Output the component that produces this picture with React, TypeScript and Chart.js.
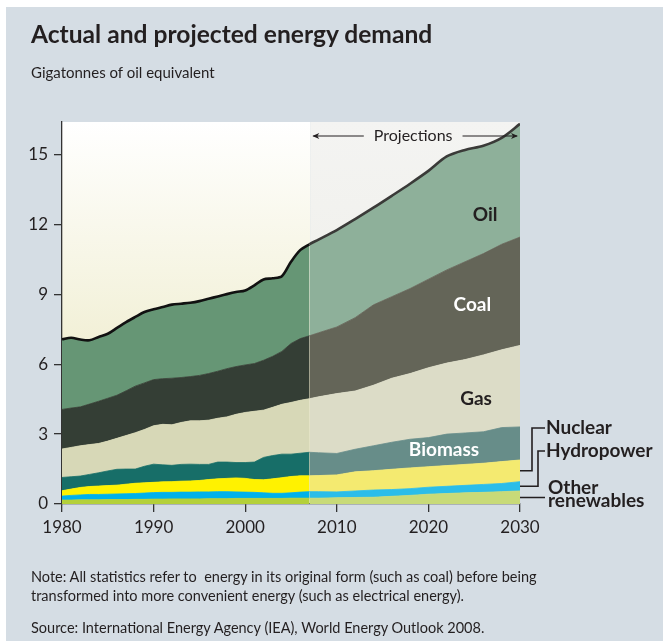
import React, { useEffect, useRef } from 'react';
import { Chart, registerables } from 'chart.js';

Chart.register(...registerables);

const years = [
  1980, 1981, 1982, 1983, 1984, 1985, 1986, 1987, 1988, 1989,
  1990, 1991, 1992, 1993, 1994, 1995, 1996, 1997, 1998, 1999,
  2000, 2001, 2002, 2003, 2004, 2005, 2006, 2007, 2008,
  2010, 2012, 2014, 2016, 2018, 2020, 2022, 2024, 2026, 2028, 2030,
];

const otherRenewables = [
  0.17, 0.17, 0.18, 0.18, 0.18, 0.19, 0.19, 0.19, 0.2, 0.2,
  0.21, 0.21, 0.22, 0.22, 0.22, 0.22, 0.23, 0.23, 0.23, 0.24,
  0.24, 0.24, 0.24, 0.24, 0.24, 0.25, 0.25, 0.25, 0.25,
  0.27, 0.28, 0.29, 0.33, 0.37, 0.42, 0.45, 0.48, 0.5, 0.53, 0.56,
];
const hydropower = [
  0.17, 0.2, 0.21, 0.23, 0.23, 0.23, 0.24, 0.25, 0.25, 0.27,
  0.28, 0.29, 0.28, 0.29, 0.29, 0.3, 0.29, 0.3, 0.3, 0.28,
  0.27, 0.26, 0.24, 0.22, 0.22, 0.23, 0.26, 0.28, 0.28,
  0.25, 0.28, 0.31, 0.29, 0.29, 0.3, 0.31, 0.32, 0.34, 0.35, 0.4,
];
const nuclear = [
  0.23, 0.27, 0.32, 0.34, 0.36, 0.37, 0.38, 0.41, 0.44, 0.44,
  0.44, 0.45, 0.46, 0.47, 0.48, 0.49, 0.53, 0.55, 0.57, 0.6,
  0.59, 0.55, 0.56, 0.62, 0.67, 0.7, 0.7, 0.68, 0.69,
  0.73, 0.82, 0.83, 0.87, 0.89, 0.88, 0.89, 0.9, 0.91, 0.94, 0.93,
];
const biomass = [
  0.57, 0.53, 0.49, 0.52, 0.57, 0.63, 0.68, 0.65, 0.61, 0.71,
  0.78, 0.73, 0.7, 0.72, 0.72, 0.69, 0.65, 0.72, 0.7, 0.66,
  0.68, 0.75, 0.96, 1.0, 1.01, 0.96, 0.97, 1.01, 0.98,
  0.92, 0.97, 1.07, 1.16, 1.23, 1.25, 1.35, 1.35, 1.35, 1.46, 1.42,
];
const gas = [
  1.22, 1.26, 1.3, 1.28, 1.26, 1.28, 1.33, 1.44, 1.56, 1.58,
  1.65, 1.74, 1.74, 1.8, 1.86, 1.87, 1.9, 1.88, 1.94, 2.07,
  2.15, 2.18, 2.03, 2.07, 2.14, 2.22, 2.27, 2.3, 2.4,
  2.57, 2.5, 2.6, 2.75, 2.82, 3.0, 3.05, 3.15, 3.3, 3.34, 3.5,
];
const coal = [
  1.7, 1.69, 1.67, 1.74, 1.81, 1.84, 1.85, 1.92, 2.0, 2.0,
  1.98, 1.96, 2.0, 1.93, 1.9, 1.95, 2.0, 2.02, 2.07, 2.05,
  2.04, 2.05, 2.14, 2.19, 2.27, 2.53, 2.65, 2.7, 2.75,
  2.86, 3.15, 3.45, 3.5, 3.65, 3.8, 4.0, 4.2, 4.35, 4.53, 4.65,
];
const oil = [
  3.01, 3.02, 2.89, 2.74, 2.76, 2.77, 2.89, 2.95, 2.97, 3.04,
  3.02, 3.08, 3.16, 3.17, 3.17, 3.19, 3.21, 3.21, 3.2, 3.2,
  3.2, 3.36, 3.47, 3.35, 3.23, 3.51, 3.8, 3.93, 4.0,
  4.16, 4.23, 4.17, 4.33, 4.5, 4.65, 4.87, 4.8, 4.63, 4.57, 4.86,
];

const xTicks = [1980, 1990, 2000, 2010, 2020, 2030];
const yTicks = [0, 3, 6, 9, 12, 15];
const projectionStart = 2007;

const FONT = "Lato, 'Open Sans', sans-serif";
const TEXT = '#231f20';

const seriesDefs = [
  { label: 'Other renewables', data: otherRenewables, hist: '#b4d03a', proj: '#c8da78' },
  { label: 'Hydropower', data: hydropower, hist: '#00b1ea', proj: '#2bbde9' },
  { label: 'Nuclear', data: nuclear, hist: '#fff200', proj: '#f4ea70' },
  { label: 'Biomass', data: biomass, hist: '#176e68', proj: '#678d89' },
  { label: 'Gas', data: gas, hist: '#d7d8b7', proj: '#dcdcc7' },
  { label: 'Coal', data: coal, hist: '#343e35', proj: '#646558' },
  { label: 'Oil', data: oil, hist: '#669675', proj: '#8eb09a' },
];

const innerLabels = [
  { text: 'Oil', x: 2026.2, y: 12.4, color: TEXT },
  { text: 'Coal', x: 2024.8, y: 8.53, color: '#ffffff' },
  { text: 'Gas', x: 2025.2, y: 4.5, color: TEXT },
  { text: 'Biomass', x: 2021.7, y: 2.34, color: '#ffffff' },
];

function arrowHead(ctx: CanvasRenderingContext2D, x: number, y: number, dir: number) {
  ctx.beginPath();
  ctx.moveTo(x, y);
  ctx.lineTo(x - dir * 7, y - 3);
  ctx.lineTo(x - dir * 5, y);
  ctx.lineTo(x - dir * 7, y + 3);
  ctx.closePath();
  ctx.fill();
}

const decorPlugin = {
  id: 'decor',
  beforeDraw(chart: any) {
    const { ctx, chartArea: a, scales } = chart;
    const xp = scales.x.getPixelForValue(projectionStart) + 1;
    ctx.save();
    let g = ctx.createLinearGradient(0, a.top, 0, a.bottom);
    g.addColorStop(0, '#ffffff');
    g.addColorStop(1, '#e8e5b9');
    ctx.fillStyle = g;
    ctx.fillRect(a.left, a.top, xp - a.left, a.bottom - a.top);
    g = ctx.createLinearGradient(0, a.top, 0, a.bottom);
    g.addColorStop(0, '#f4f4f2');
    g.addColorStop(1, '#ebebe4');
    ctx.fillStyle = g;
    ctx.fillRect(xp, a.top, a.right - xp, a.bottom - a.top);
    ctx.restore();
  },
  afterDraw(chart: any) {
    const { ctx, chartArea: a, scales } = chart;
    const xs = scales.x;
    const ys = scales.y;
    ctx.save();
    // Projections annotation
    const xp = xs.getPixelForValue(projectionStart) + 1;
    const ay = a.top + 14;
    const cx = (xp + a.right) / 2 - 2;
    ctx.font = `16px ${FONT}`;
    ctx.fillStyle = TEXT;
    ctx.strokeStyle = TEXT;
    ctx.textAlign = 'center';
    ctx.textBaseline = 'middle';
    const label = 'Projections';
    const w = ctx.measureText(label).width;
    ctx.fillText(label, cx, ay);
    ctx.lineWidth = 1.2;
    ctx.beginPath();
    ctx.moveTo(xp + 3, ay);
    ctx.lineTo(cx - w / 2 - 10, ay);
    ctx.moveTo(cx + w / 2 + 10, ay);
    ctx.lineTo(a.right - 3, ay);
    ctx.stroke();
    arrowHead(ctx, xp + 2, ay, -1);
    arrowHead(ctx, a.right - 2, ay, 1);

    // inner labels
    ctx.font = `bold 19px ${FONT}`;
    for (const l of innerLabels) {
      ctx.fillStyle = l.color;
      ctx.fillText(l.text, xs.getPixelForValue(l.x), ys.getPixelForValue(l.y));
    }

    // right-hand labels with leader lines
    const last = years.length - 1;
    const o = otherRenewables[last];
    const h = hydropower[last];
    const n = nuclear[last];
    const yOther = ys.getPixelForValue(o / 2);
    const yHydro = ys.getPixelForValue(o + h / 2);
    const yNuc = ys.getPixelForValue(o + h + n / 2);
    const r = a.right;
    ctx.strokeStyle = TEXT;
    ctx.lineWidth = 1.6;
    ctx.beginPath();
    ctx.moveTo(r, yNuc);
    ctx.lineTo(r + 12, yNuc);
    ctx.lineTo(r + 12, 428);
    ctx.lineTo(r + 25, 428);
    ctx.moveTo(r, yHydro);
    ctx.lineTo(r + 18, yHydro);
    ctx.lineTo(r + 18, 451);
    ctx.lineTo(r + 25, 451);
    ctx.moveTo(r, yOther);
    ctx.lineTo(r + 25, yOther);
    ctx.stroke();
    ctx.fillStyle = TEXT;
    ctx.textAlign = 'left';
    ctx.font = `bold 19px ${FONT}`;
    ctx.fillText('Nuclear', r + 26, 428);
    ctx.fillText('Hydropower', r + 26, 451);
    ctx.fillText('Other', r + 28, 488);
    ctx.fillText('renewables', r + 28, 501);
    ctx.restore();
  },
};

function EnergyChart() {
  const ref = useRef<HTMLCanvasElement | null>(null);
  useEffect(() => {
    if (!ref.current) return;
    const datasets = seriesDefs.map((s, i) => {
      const isTop = i === seriesDefs.length - 1;
      return {
        label: s.label,
        data: years.map((yr, k) => ({ x: yr, y: s.data[k] })),
        fill: i === 0 ? 'origin' : '-1',
        backgroundColor: s.hist,
        borderColor: isTop ? '#111111' : s.hist,
        borderWidth: isTop ? 2.6 : 0.8,
        pointRadius: 0,
        tension: isTop ? 0.3 : 0,
        segment: {
          backgroundColor: (c: any) => (c.p0.parsed.x >= projectionStart ? s.proj : s.hist),
          borderColor: (c: any) =>
            isTop
              ? c.p0.parsed.x >= projectionStart
                ? '#3a3a38'
                : '#111111'
              : c.p0.parsed.x >= projectionStart
              ? s.proj
              : s.hist,
        },
      };
    });
    const chart = new Chart(ref.current, {
      type: 'line',
      data: { datasets } as any,
      plugins: [decorPlugin],
      options: {
        animation: false,
        responsive: false,
        devicePixelRatio: 1,
        layout: { padding: { top: 122, left: 0, right: 143, bottom: 0 } },
        plugins: { legend: { display: false }, tooltip: { enabled: false } },
        elements: { line: { borderJoinStyle: 'round' } },
        scales: {
          x: {
            type: 'linear',
            min: 1980,
            max: 2030,
            afterBuildTicks: (s: any) => {
              s.ticks = xTicks.map((v) => ({ value: v }));
            },
            afterFit: (s: any) => {
              s.height = 137;
            },
            grid: {
              display: true,
              drawOnChartArea: false,
              drawTicks: true,
              tickLength: 8,
              color: '#333333',
              lineWidth: 1.3,
            },
            border: { display: true, color: '#333333', width: 1.3 },
            ticks: {
              color: TEXT,
              font: { family: FONT, size: 17 },
              padding: 5,
              maxRotation: 0,
              callback: (v: any) => String(v),
            },
          },
          y: {
            type: 'linear',
            stacked: true,
            min: 0,
            max: 16.4,
            afterBuildTicks: (s: any) => {
              s.ticks = yTicks.map((v) => ({ value: v }));
            },
            afterFit: (s: any) => {
              s.width = 62;
            },
            grid: {
              display: true,
              drawOnChartArea: false,
              drawTicks: true,
              tickLength: 8,
              color: '#333333',
              lineWidth: 1.3,
            },
            border: { display: true, color: '#333333', width: 1.3 },
            ticks: {
              color: TEXT,
              font: { family: FONT, size: 17 },
              padding: 6,
            },
          },
        },
      } as any,
    });
    return () => chart.destroy();
  }, []);
  return (
    <canvas
      ref={ref}
      width={663}
      height={641}
      style={{ position: 'absolute', left: 0, top: 0, width: 663, height: 641 }}
    />
  );
}

export default function App() {
  return (
    <div
      style={{
        position: 'fixed',
        left: 0,
        top: 0,
        width: 663,
        height: 641,
        background: '#ffffff',
        fontFamily: FONT,
        color: TEXT,
        overflow: 'hidden',
      }}
    >
      <div
        style={{
          position: 'absolute',
          left: 6,
          top: 7,
          width: 657,
          height: 634,
          background: '#d5dde4',
        }}
      />
      <EnergyChart />
      <div
        style={{
          position: 'absolute',
          left: 31,
          top: 21,
          fontSize: 24.6,
          lineHeight: '25px',
          fontWeight: 700,
          whiteSpace: 'nowrap',
        }}
      >
        Actual and projected energy demand
      </div>
      <div
        style={{
          position: 'absolute',
          left: 31,
          top: 65,
          fontSize: 15,
          lineHeight: '15px',
          whiteSpace: 'nowrap',
        }}
      >
        Gigatonnes of oil equivalent
      </div>
      <div
        style={{
          position: 'absolute',
          left: 31,
          top: 567,
          fontSize: 14.5,
          lineHeight: '19px',
          whiteSpace: 'pre',
        }}
      >
        {'Note: All statistics refer to  energy in its original form (such as coal) before being\ntransformed into more convenient energy (such as electrical energy).'}
      </div>
      <div
        style={{
          position: 'absolute',
          left: 31,
          top: 618,
          fontSize: 14.5,
          lineHeight: '19px',
          whiteSpace: 'nowrap',
        }}
      >
        Source: International Energy Agency (IEA), World Energy Outlook 2008.
      </div>
    </div>
  );
}
